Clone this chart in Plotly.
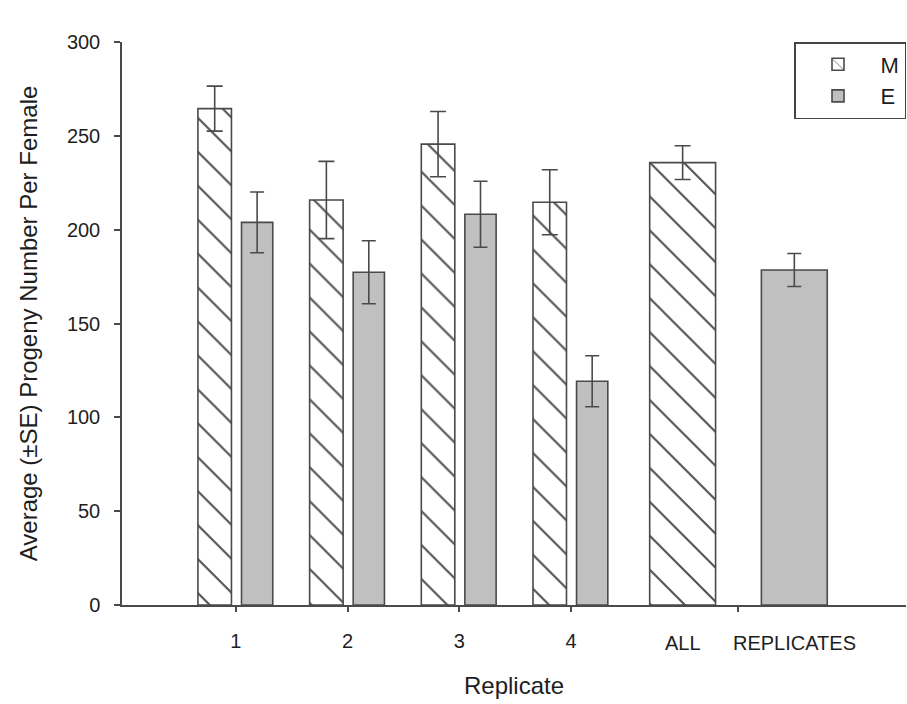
import plotly.graph_objects as go

# ---- data ----
categories = ["1", "2", "3", "4", "ALL REPLICATES"]
m_means = [264.5, 215.8, 245.6, 214.6, 235.7]
m_se = [12.0, 20.6, 17.4, 17.3, 9.0]
e_means = [203.9, 177.3, 208.2, 119.2, 178.5]
e_se = [16.2, 16.8, 17.6, 13.6, 8.8]
x_tick_labels = ["1", "2", "3", "4", ""]
all_labels = ["ALL", "REPLICATES"]
y_ticks = [0, 50, 100, 150, 200, 250, 300]

# ---- layout helpers (group positions / offsets) ----
group_pos = [1, 2, 3, 4, 5.5]
m_offset = [-0.34, -0.34, -0.34, -0.34, -0.795]
m_width = [0.30, 0.30, 0.30, 0.30, 0.59]
e_offset = [0.05, 0.05, 0.05, 0.05, 0.205]
e_width = [0.28, 0.28, 0.28, 0.28, 0.59]

DARK = "#4a4a4a"
TXT = "#1e1e1e"
FONT = "Arial, Liberation Sans, sans-serif"

fig = go.Figure()
fig.add_trace(go.Bar(
    name="M", x=group_pos, y=m_means, offset=m_offset, width=m_width,
    marker=dict(color="white", line=dict(color=DARK, width=1.6),
                pattern=dict(shape="\\", fgcolor="#505050", bgcolor="white",
                             fgopacity=1, size=24, solidity=0.085)),
    error_y=dict(type="data", array=m_se, color=DARK, thickness=1.6, width=8),
    hovertext=categories,
))
fig.add_trace(go.Bar(
    name="E", x=group_pos, y=e_means, offset=e_offset, width=e_width,
    marker=dict(color="#c0c0c0", line=dict(color=DARK, width=1.6)),
    error_y=dict(type="data", array=e_se, color=DARK, thickness=1.6, width=7),
    hovertext=categories,
))

annotations = []
for xv, txt in zip([5, 6], all_labels):
    annotations.append(dict(x=xv, y=0, xref="x", yref="paper", text=txt,
                            showarrow=False, yanchor="top", yshift=-25,
                            font=dict(family=FONT, size=20, color=TXT)))

fig.update_layout(
    width=907, height=704,
    margin=dict(l=122, r=1, t=42, b=99),
    paper_bgcolor="white", plot_bgcolor="white",
    barmode="overlay",
    font=dict(family=FONT, color=TXT),
    showlegend=True,
    legend=dict(x=1, y=1, xanchor="right", yanchor="top",
                bordercolor="#444444", borderwidth=1.5, bgcolor="white",
                font=dict(family=FONT, size=22, color=TXT),
                itemwidth=75, tracegroupgap=0),
    xaxis=dict(range=[-0.02, 7.0], tickvals=group_pos, ticktext=x_tick_labels,
               showline=True, linecolor=DARK, linewidth=1.5,
               ticks="outside", ticklen=5, tickcolor=DARK, tickwidth=1.5,
               showgrid=False, zeroline=False,
               tickfont=dict(family=FONT, size=20, color=TXT),
               ticklabelstandoff=12,
               title=dict(text="Replicate", font=dict(family=FONT, size=24, color=TXT),
                          standoff=26)),
    yaxis=dict(range=[0, 300], tickvals=y_ticks,
               showline=True, linecolor=DARK, linewidth=1.5,
               ticks="outside", ticklen=6, tickcolor=DARK, tickwidth=1.5,
               showgrid=False, zeroline=False,
               tickfont=dict(family=FONT, size=20, color=TXT),
               ticklabelstandoff=10,
               title=dict(text="Average (±SE) Progeny Number Per Female",
                          font=dict(family=FONT, size=24, color=TXT),
                          standoff=22)),
    annotations=annotations,
)

fig.write_html("out.html")
